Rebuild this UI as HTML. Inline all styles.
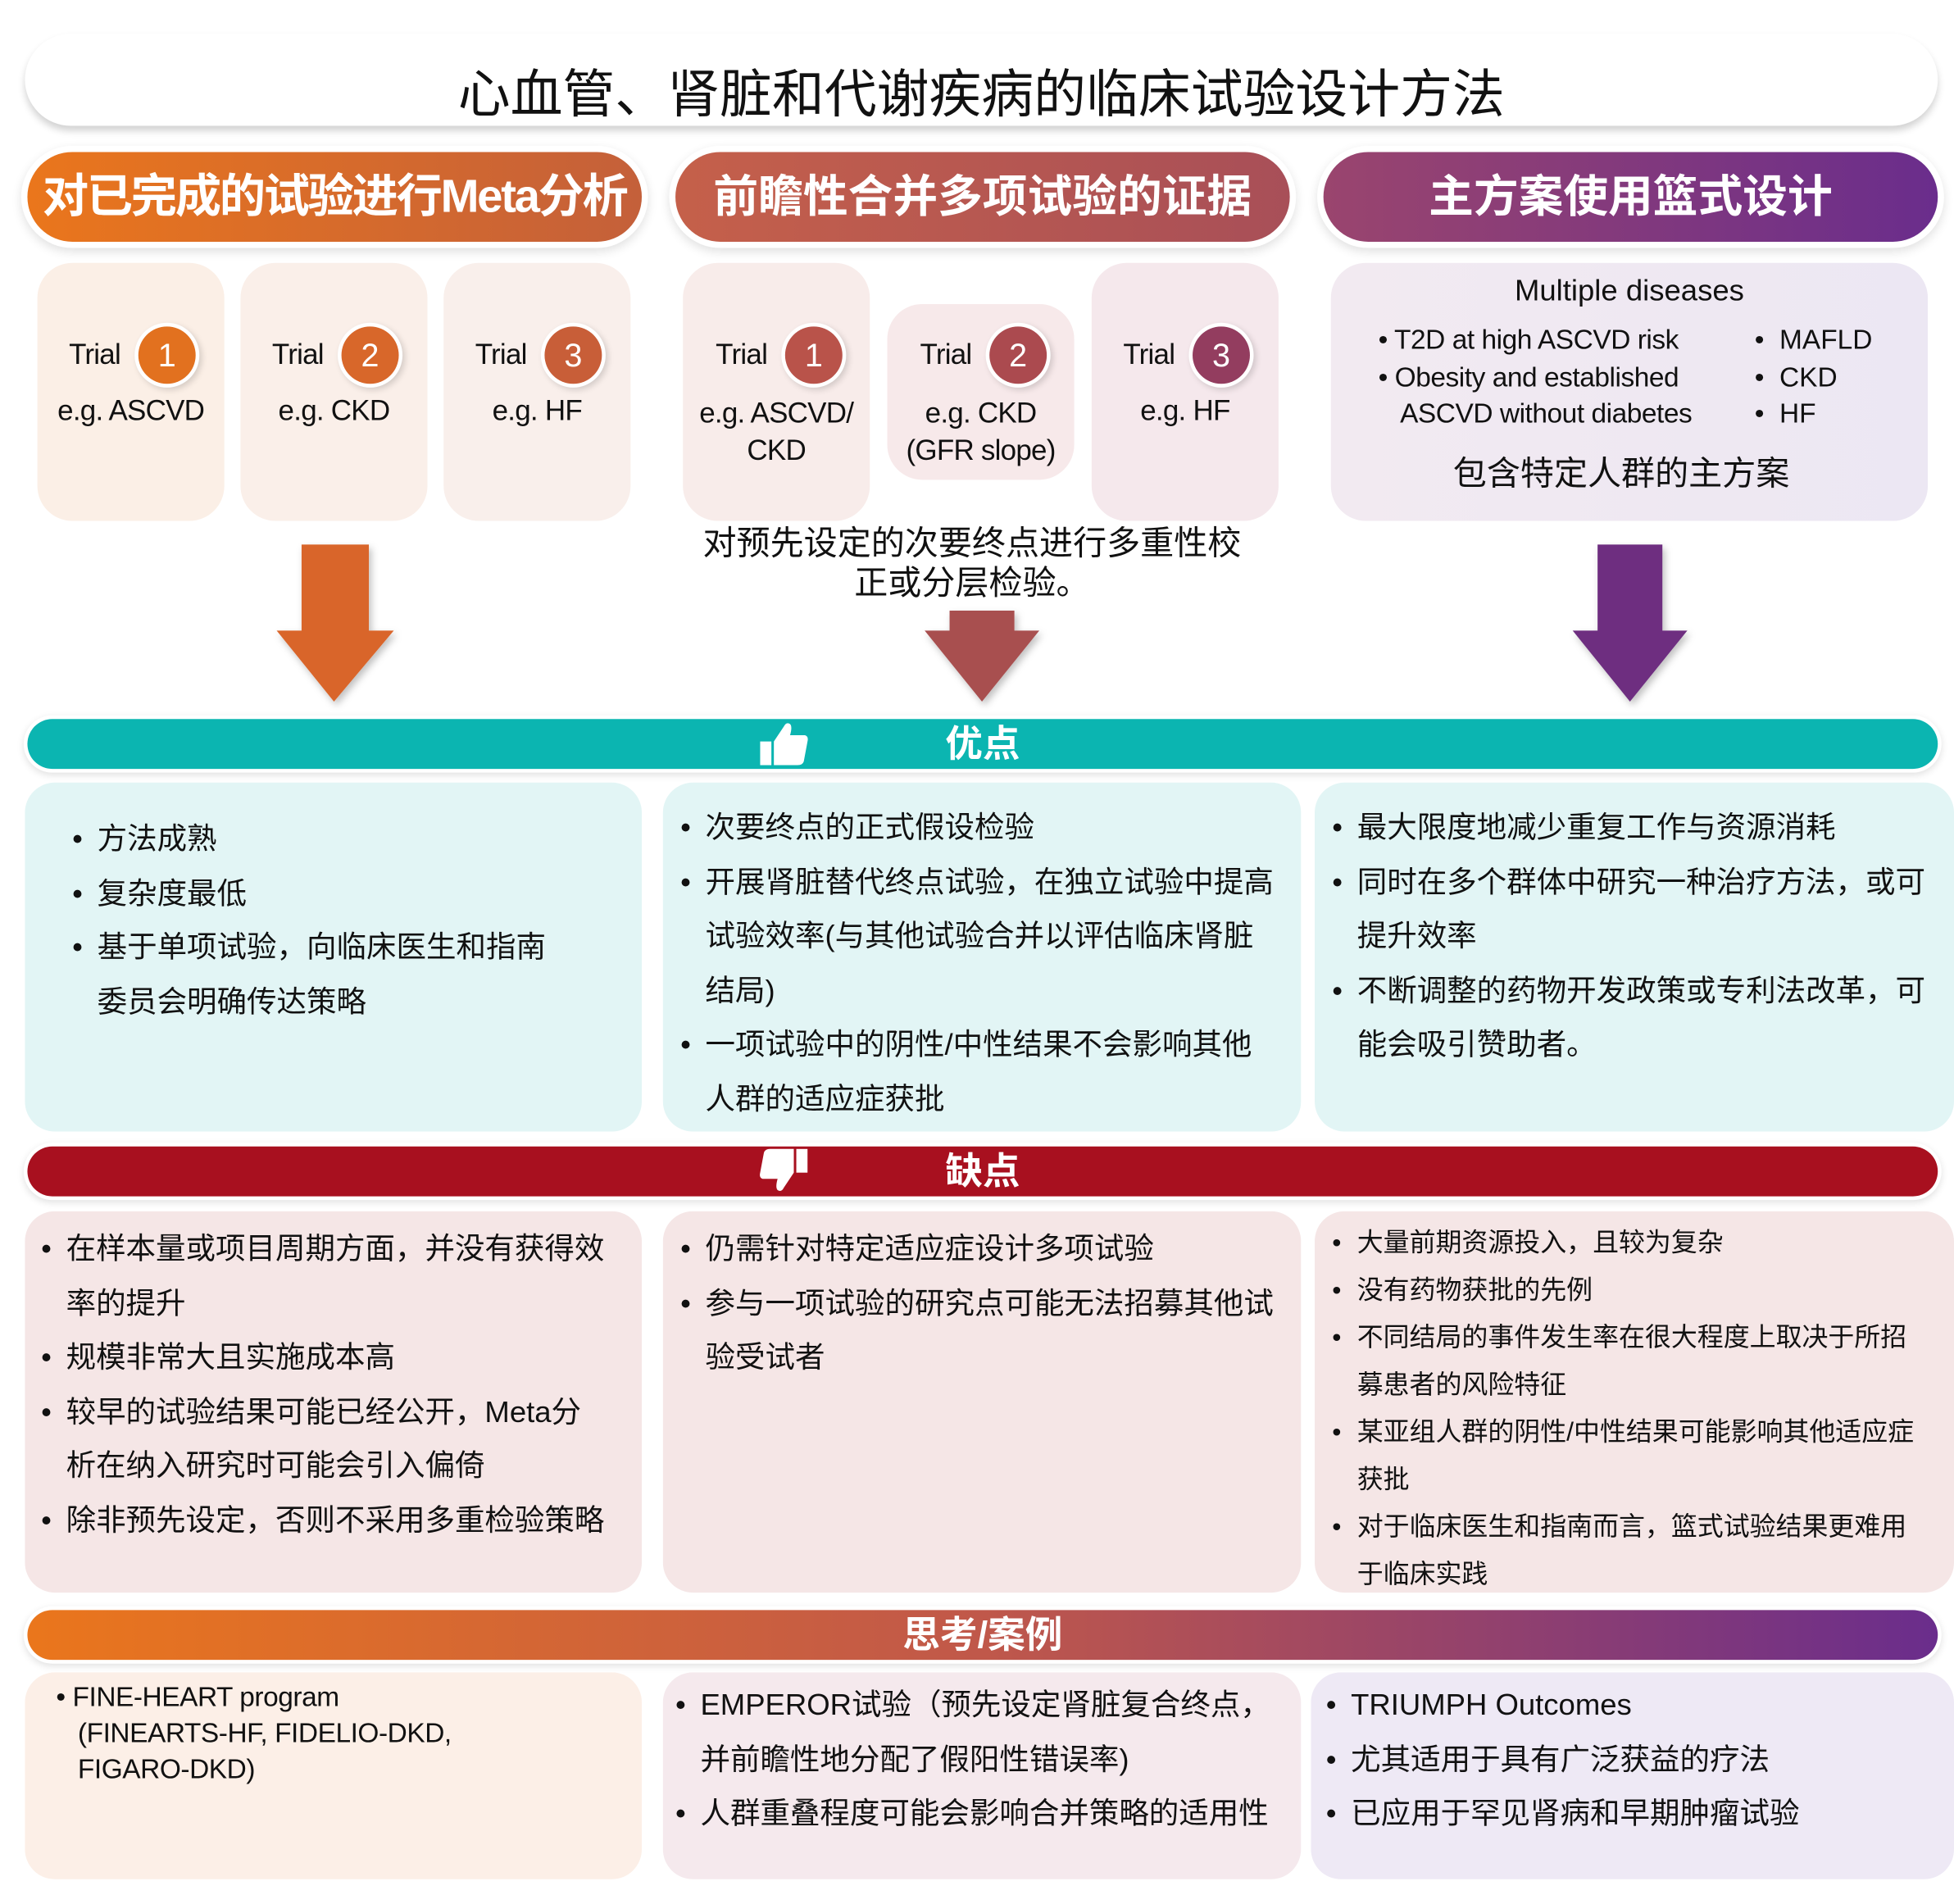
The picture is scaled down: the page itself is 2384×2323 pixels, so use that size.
<!DOCTYPE html>
<html><head><meta charset="utf-8">
<style>
html,body{margin:0;padding:0;background:#fff;}
body{width:2384px;height:2323px;overflow:hidden;position:relative;}
#s{position:absolute;left:0;top:0;width:1568px;height:1528px;transform:scale(1.5204);transform-origin:0 0;font-family:"Liberation Sans","Noto Sans CJK SC",sans-serif;color:#111;}
#s div{position:absolute;box-sizing:border-box;}
.pill{border-radius:40px;color:#fff;font-weight:bold;text-align:center;font-size:36px;line-height:72px;box-shadow:0 0 0 5px #fff,0 3px 8px 5px rgba(0,0,0,.12);white-space:nowrap;}
.card{border-radius:28px;}
.tr{font-size:23px;text-align:center;width:100%;letter-spacing:-0.5px;}
.c{width:46px;height:46px;border-radius:50%;color:#fff;font-size:26px;line-height:46px;text-align:center;box-shadow:0 0 0 3px #fff,2px 2px 5px 3px rgba(0,0,0,.15);}
.bar{height:40px;border-radius:20px;color:#fff;font-weight:bold;font-size:30px;line-height:42px;text-align:center;box-shadow:0 0 0 3px #fff,0 2px 6px 3px rgba(0,0,0,.12);}
.box{border-radius:24px;}
.tx{font-size:24px;line-height:43.5px;white-space:nowrap;}
.tx p{margin:0;position:relative;padding-left:18px;}
.tx p.b:before{content:"•";position:absolute;left:-2px;top:0;}
</style></head><body><div id="s">
<div style="left:20px;top:27px;width:1535px;height:74px;border-radius:37px;background:#fff;box-shadow:0 4px 6px rgba(0,0,0,.18);font-size:42px;line-height:98px;text-align:center;">心血管、肾脏和代谢疾病的临床试验设计方法</div>

<div class="pill" style="left:22px;top:122px;width:493px;height:72px;background:linear-gradient(90deg,#ea761c,#c4603a);font-size:37px;letter-spacing:-1.5px;">对已完成的试验进行Meta分析</div>
<div class="pill" style="left:542px;top:122px;width:493px;height:72px;background:linear-gradient(90deg,#c5604a,#a84f58);">前瞻性合并多项试验的证据</div>
<div class="pill" style="left:1062px;top:122px;width:493px;height:72px;background:linear-gradient(90deg,#9a456e,#6a2d8c);">主方案使用篮式设计</div>

<div class="card" style="left:30px;top:211px;width:150px;height:207px;background:#fbefe6;"></div>
<div class="card" style="left:193px;top:211px;width:150px;height:207px;background:#faefe9;"></div>
<div class="card" style="left:356px;top:211px;width:150px;height:207px;background:#f9efeb;"></div>
<div class="tr" style="left:30px;top:271px;width:92px;">Trial</div>
<div class="tr" style="left:193px;top:271px;width:92px;">Trial</div>
<div class="tr" style="left:356px;top:271px;width:92px;">Trial</div>
<div class="c" style="left:111px;top:262px;background:#e2711f;">1</div>
<div class="c" style="left:274px;top:262px;background:#d8672a;">2</div>
<div class="c" style="left:437px;top:262px;background:#c85e38;">3</div>
<div class="tr" style="left:30px;top:316px;width:150px;">e.g. ASCVD</div>
<div class="tr" style="left:193px;top:316px;width:150px;">e.g. CKD</div>
<div class="tr" style="left:356px;top:316px;width:150px;">e.g. HF</div>

<div class="card" style="left:548px;top:211px;width:150px;height:207px;background:#f8ecea;"></div>
<div class="card" style="left:712px;top:244px;width:150px;height:141px;background:#f7e9ea;"></div>
<div class="card" style="left:876px;top:211px;width:150px;height:207px;background:#f5e8ec;"></div>
<div class="tr" style="left:548px;top:271px;width:94px;">Trial</div>
<div class="tr" style="left:712px;top:271px;width:94px;">Trial</div>
<div class="tr" style="left:876px;top:271px;width:92px;">Trial</div>
<div class="c" style="left:630px;top:262px;background:#b9534a;">1</div>
<div class="c" style="left:794px;top:262px;background:#ab4a4f;">2</div>
<div class="c" style="left:957px;top:262px;background:#933d5f;">3</div>
<div class="tr" style="left:548px;top:316px;width:150px;line-height:30px;">e.g. ASCVD/<br>CKD</div>
<div class="tr" style="left:712px;top:316px;width:150px;line-height:30px;">e.g. CKD<br>(GFR slope)</div>
<div class="tr" style="left:876px;top:316px;width:150px;">e.g. HF</div>

<div class="card" style="left:1068px;top:211px;width:479px;height:207px;background:linear-gradient(90deg,#f2eaf1,#ece7f3);"></div>
<div style="left:1068px;top:220px;width:479px;text-align:center;font-size:24px;">Multiple diseases</div>
<div style="left:1106px;top:258px;font-size:22px;line-height:29.5px;white-space:nowrap;letter-spacing:-0.3px;">• T2D at high ASCVD risk<br>• Obesity and established<br>&nbsp;&nbsp;&nbsp;ASCVD without diabetes</div>
<div style="left:1408px;top:258px;font-size:22px;line-height:29.5px;white-space:nowrap;">•&nbsp; MAFLD<br>•&nbsp; CKD<br>•&nbsp; HF</div>
<div style="left:1068px;top:358px;width:466px;text-align:center;font-size:27px;">包含特定人群的主方案</div>

<div style="left:540px;top:420px;width:480px;text-align:center;font-size:27px;line-height:32px;">对预先设定的次要终点进行多重性校<br>正或分层检验。</div>

<svg style="position:absolute;left:0;top:0" width="1568" height="600">
<defs><filter id="sh"><feDropShadow dx="2" dy="3" stdDeviation="3" flood-opacity=".25"/></filter></defs>
<polygon filter="url(#sh)" fill="#d9652a" points="242,437 296,437 296,506 316,506 268,563 222,506 242,506"/>
<polygon filter="url(#sh)" fill="#a85050" points="762,490 814,490 814,506 834,506 788,563 742,506 762,506"/>
<polygon filter="url(#sh)" fill="#6e2f80" points="1282,437 1334,437 1334,506 1354,506 1308,563 1262,506 1282,506"/>
</svg>

<div class="bar" style="left:22px;top:577px;width:1533px;background:#0bb5b1;">优点</div>
<svg style="position:absolute;left:608px;top:578px" width="42" height="38" viewBox="0 0 42 38"><rect x="2" y="17" width="9" height="19" fill="#fff"/><path d="M13 17 L21 5 Q23 1 26 3 Q28 5 26 12 L38 12 Q41 13 40 17 L37 33 Q36 36 32 36 L13 36Z" fill="#fff"/></svg>
<div class="box" style="left:20px;top:628px;width:495px;height:280px;background:#e2f5f5;"></div>
<div class="box" style="left:532px;top:628px;width:512px;height:280px;background:#e2f5f5;"></div>
<div class="box" style="left:1055px;top:628px;width:513px;height:280px;background:#e2f5f5;"></div>
<div class="tx" style="left:60px;top:652px;"><p class="b">方法成熟</p><p class="b">复杂度最低</p><p class="b">基于单项试验，向临床医生和指南</p><p>委员会明确传达策略</p></div>
<div class="tx" style="left:548px;top:643px;"><p class="b">次要终点的正式假设检验</p><p class="b">开展肾脏替代终点试验，在独立试验中提高</p><p>试验效率(与其他试验合并以评估临床肾脏</p><p>结局)</p><p class="b">一项试验中的阴性/中性结果不会影响其他</p><p>人群的适应症获批</p></div>
<div class="tx" style="left:1071px;top:643px;"><p class="b">最大限度地减少重复工作与资源消耗</p><p class="b">同时在多个群体中研究一种治疗方法，或可</p><p>提升效率</p><p class="b">不断调整的药物开发政策或专利法改革，可</p><p>能会吸引赞助者。</p></div>

<div class="bar" style="left:22px;top:920px;width:1533px;background:#a8101f;">缺点</div>
<svg style="position:absolute;left:608px;top:920px" width="42" height="38" viewBox="0 0 42 38"><g transform="rotate(180 21 19)"><rect x="2" y="17" width="9" height="19" fill="#fff"/><path d="M13 17 L21 5 Q23 1 26 3 Q28 5 26 12 L38 12 Q41 13 40 17 L37 33 Q36 36 32 36 L13 36Z" fill="#fff"/></g></svg>
<div class="box" style="left:20px;top:972px;width:495px;height:306px;background:#f5e6e6;"></div>
<div class="box" style="left:532px;top:972px;width:512px;height:306px;background:#f5e6e6;"></div>
<div class="box" style="left:1055px;top:972px;width:513px;height:306px;background:#f5e6e6;"></div>
<div class="tx" style="left:35px;top:981px;"><p class="b">在样本量或项目周期方面，并没有获得效</p><p>率的提升</p><p class="b">规模非常大且实施成本高</p><p class="b">较早的试验结果可能已经公开，Meta分</p><p>析在纳入研究时可能会引入偏倚</p><p class="b">除非预先设定，否则不采用多重检验策略</p></div>
<div class="tx" style="left:548px;top:981px;"><p class="b">仍需针对特定适应症设计多项试验</p><p class="b">参与一项试验的研究点可能无法招募其他试</p><p>验受试者</p></div>
<div class="tx" style="left:1071px;top:979px;font-size:21px;line-height:38px;"><p class="b">大量前期资源投入，且较为复杂</p><p class="b">没有药物获批的先例</p><p class="b">不同结局的事件发生率在很大程度上取决于所招</p><p>募患者的风险特征</p><p class="b">某亚组人群的阴性/中性结果可能影响其他适应症</p><p>获批</p><p class="b">对于临床医生和指南而言，篮式试验结果更难用</p><p>于临床实践</p></div>

<div class="bar" style="left:22px;top:1292px;width:1533px;background:linear-gradient(90deg,#ea761c,#c0584a 50%,#6a2d8c);">思考/案例</div>
<div class="box" style="left:20px;top:1342px;width:495px;height:166px;background:#fcefe7;"></div>
<div class="box" style="left:532px;top:1342px;width:512px;height:166px;background:#f5e9ed;"></div>
<div class="box" style="left:1052px;top:1342px;width:516px;height:166px;background:#eee9f5;"></div>
<div style="left:45px;top:1347px;font-size:22px;line-height:29px;white-space:nowrap;letter-spacing:-0.3px;">• FINE-HEART program<br>&nbsp;&nbsp; (FINEARTS-HF, FIDELIO-DKD,<br>&nbsp;&nbsp; FIGARO-DKD)</div>
<div class="tx" style="left:544px;top:1347px;"><p class="b">EMPEROR试验（预先设定肾脏复合终点，</p><p>并前瞻性地分配了假阳性错误率)</p><p class="b">人群重叠程度可能会影响合并策略的适用性</p></div>
<div class="tx" style="left:1066px;top:1347px;"><p class="b">TRIUMPH Outcomes</p><p class="b">尤其适用于具有广泛获益的疗法</p><p class="b">已应用于罕见肾病和早期肿瘤试验</p></div>
</div></body></html>
